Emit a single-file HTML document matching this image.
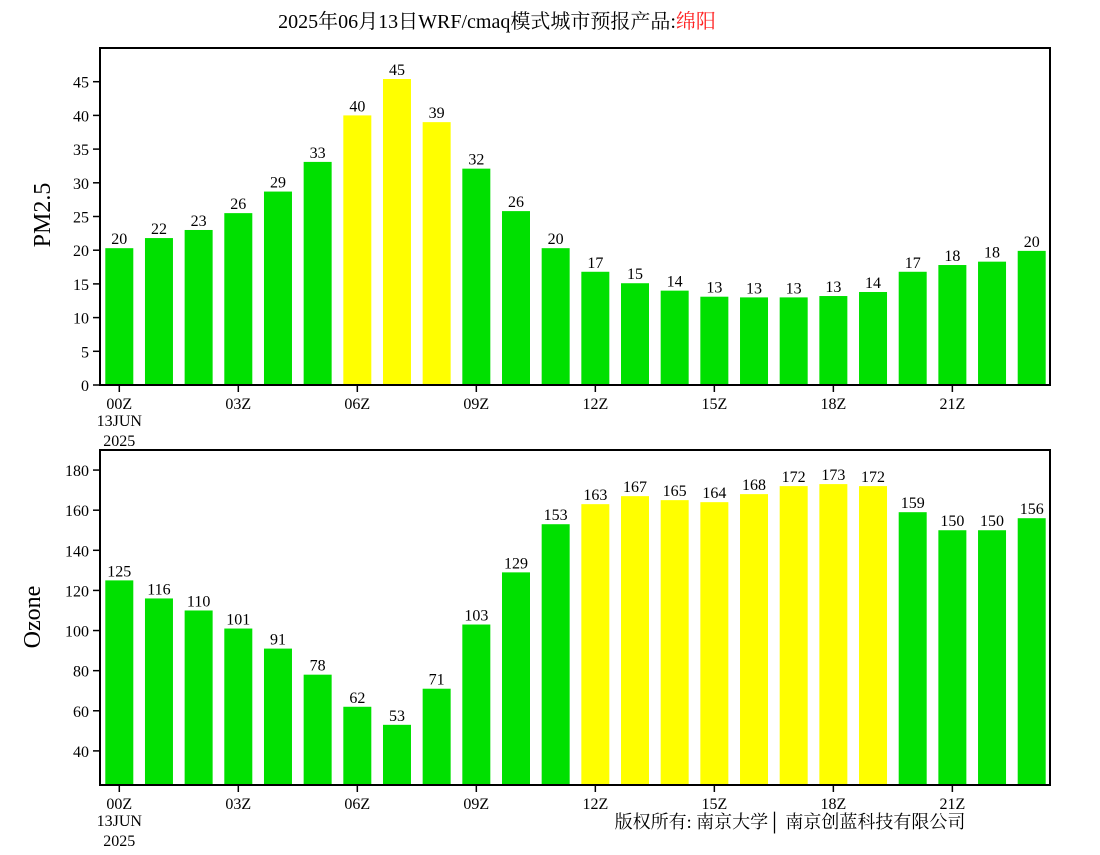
<!DOCTYPE html>
<html><head><meta charset="utf-8"><style>
body{margin:0;background:#fff;width:1100px;height:850px;overflow:hidden}
svg text{font-family:"Liberation Serif","Noto Serif CJK SC",serif;fill:#000}
</style></head><body>
<svg id="c" width="1100" height="850">
<text x="497" y="28" font-size="20" text-anchor="middle">2025年06月13日WRF/cmaq模式城市预报产品:<tspan fill="#ff2020">绵阳</tspan></text>
<text x="50" y="215" font-size="24" text-anchor="middle" transform="rotate(-90 50 215)">PM2.5</text>
<text x="40" y="617" font-size="24" text-anchor="middle" transform="rotate(-90 40 617)">Ozone</text>
<text x="790" y="828" font-size="18" text-anchor="middle">版权所有: 南京大学│ 南京创蓝科技有限公司</text>
</svg>
<script>
const categories=["00Z","01Z","02Z","03Z","04Z","05Z","06Z","07Z","08Z","09Z","10Z","11Z","12Z","13Z","14Z","15Z","16Z","17Z","18Z","19Z","20Z","21Z","22Z","23Z"];
const pm25=[20.3,21.8,23.0,25.5,28.7,33.1,40.0,45.4,39.0,32.1,25.8,20.3,16.8,15.1,14.0,13.1,13.0,13.0,13.2,13.8,16.8,17.8,18.3,19.9];
const ozone=[125,116,110,101,91,78,62,53,71,103,129,153,163,167,165,164,168,172,173,172,159,150,150,156];
const pmTicks=[0,5,10,15,20,25,30,35,40,45];
const ozTicks=[40,60,80,100,120,140,160,180];
const xTickLabels=["00Z","03Z","06Z","09Z","12Z","15Z","18Z","21Z"];
const svg=document.getElementById('c');
const NS='http://www.w3.org/2000/svg';
function mk(t,a){const e=document.createElementNS(NS,t);for(const k in a)e.setAttribute(k,a[k]);svg.appendChild(e);return e;}
const X0=100,X1=1050;
function xc(i){return 119.3+i*(X1-X0-30.2)/(categories.length-1)*((1031.7-119.3)/(919.8))*(919.8/(X1-X0-30.2));}
function panel(vals,ticks,ymin,ymax,top,bot,thr,name){
 const y=v=>bot-(v-ymin)/(ymax-ymin)*(bot-top);
 vals.forEach((v,i)=>{
  const cx=xc(i);
  const r=mk('rect',{x:cx-14,y:y(v),width:28,height:bot-y(v),fill:v>thr?'#ffff00':'#00e000'});
  
  
  const t=mk('text',{x:cx,y:y(v)-4,'font-size':16,'text-anchor':'middle'});
  t.textContent=Math.round(v);
  
  
 });
 const f=mk('rect',{x:X0,y:top,width:X1-X0,height:bot-top,fill:'none',stroke:'#000','stroke-width':2});
 
 
 ticks.forEach(tv=>{
  mk('line',{x1:X0-7,x2:X0,y1:y(tv),y2:y(tv),stroke:'#000','stroke-width':1.5});
  const t=mk('text',{x:X0-11,y:y(tv)+6,'font-size':16,'text-anchor':'end'});
  t.textContent=tv;
  
  
 });
 xTickLabels.forEach((lab,k)=>{
  const cx=xc(categories.indexOf(lab));
  mk('line',{x1:cx,x2:cx,y1:bot,y2:bot+7,stroke:'#000','stroke-width':1.5});
  const t=mk('text',{x:cx,y:bot+24,'font-size':16,'text-anchor':'middle'});
  t.textContent=lab;
  
  
 });
 const a=mk('text',{x:xc(0),y:bot+41,'font-size':16,'text-anchor':'middle'});a.textContent='13JUN';
 
 
 const b=mk('text',{x:xc(0),y:bot+61,'font-size':16,'text-anchor':'middle'});b.textContent='2025';
 
 
}
panel(pm25,pmTicks,0,50.0,48,385,35,'pm25');
panel(ozone,ozTicks,23,190,450,785,160,'ozone');
</script>
</body></html>
